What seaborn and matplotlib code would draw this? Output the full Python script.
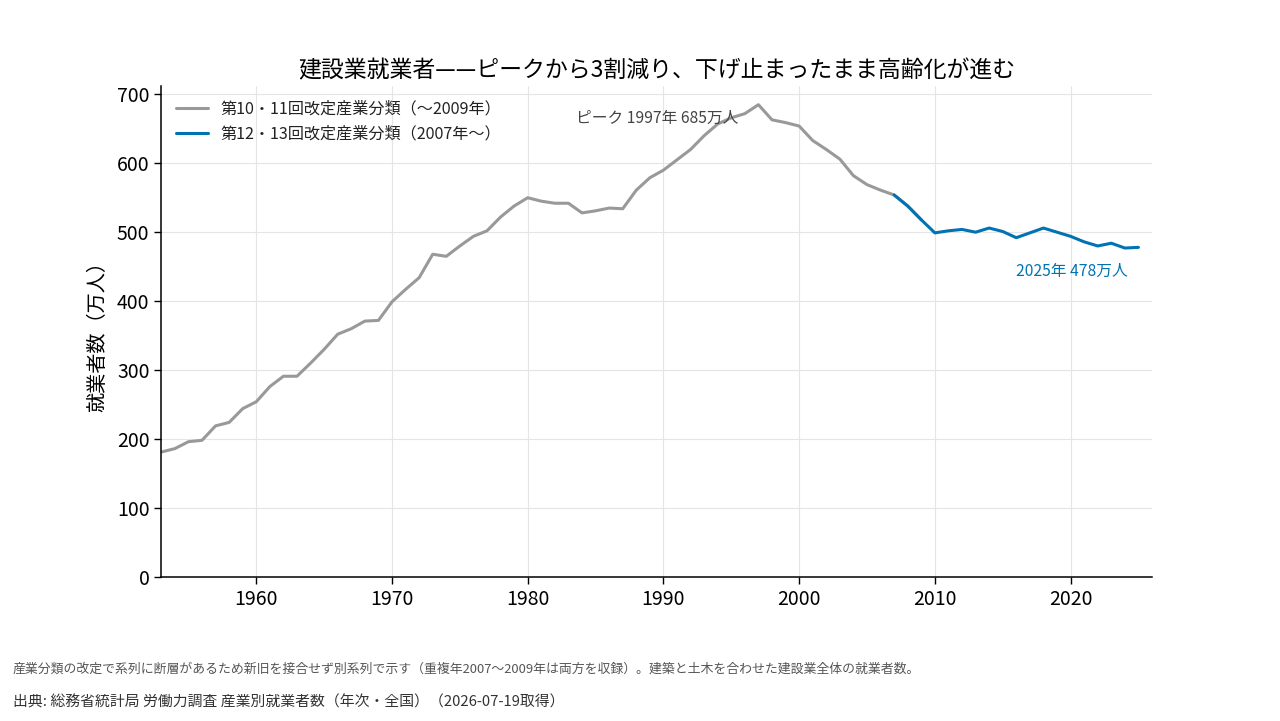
import numpy as np
import pandas as pd
import seaborn as sns
import matplotlib.pyplot as plt

# 旧分類（第10・11回改定）1953-2009
old_years = list(range(1953, 2010))
old_vals = [181, 186, 196, 198, 219, 224, 244, 254, 276, 291,
            291, 310, 330, 352, 360, 371, 372, 399, 417, 434,
            468, 465, 480, 494, 502, 522, 538, 550, 545, 542,
            542, 528, 531, 535, 534, 561, 579, 590, 605, 620,
            640, 657, 666, 672, 685, 663, 659, 654, 633, 620,
            606, 582, 569, 561, 554, 538, 518]

# 新分類（第12・13回改定）2007-2025
new_years = list(range(2007, 2026))
new_vals = [554, 538, 518, 499, 502, 504, 500, 506, 501, 492,
            499, 506, 500, 494, 486, 480, 484, 477, 478]

old_label = "第10・11回改定産業分類（～2009年）"
new_label = "第12・13回改定産業分類（2007年～）"

df = pd.concat([
    pd.DataFrame({"年": old_years, "就業者数": old_vals, "系列": old_label}),
    pd.DataFrame({"年": new_years, "就業者数": new_vals, "系列": new_label}),
])

sns.set_theme(style="whitegrid")
plt.rcParams['font.family'] = ['Noto Sans CJK JP', 'DejaVu Sans']
plt.rcParams['text.color'] = "black"

gray = "#999999"
blue = "#0173B2"

fig = plt.figure(figsize=(12.8, 7.21), dpi=100)
ax = fig.add_axes([0.126, 0.2, 0.774, 0.681])

sns.lineplot(data=df, x="年", y="就業者数", hue="系列", ax=ax,
             palette={old_label: gray, new_label: blue}, linewidth=2.2)

ax.set_xlim(1953, 2026)
ax.set_ylim(0, max(old_vals) * 1.04)
ax.set_xticks([1960, 1970, 1980, 1990, 2000, 2010, 2020])
ax.set_yticks(range(0, 701, 100))
ax.tick_params(labelsize=14, labelcolor="black", length=5, width=1,
               color="black", left=True, bottom=True)
ax.grid(color="#e5e5e5", linewidth=0.8)
ax.set_facecolor("white")
for s in ["left", "bottom"]:
    ax.spines[s].set_color("black")
    ax.spines[s].set_linewidth(1.1)
sns.despine(ax=ax)

ax.set_xlabel("")
ax.set_ylabel("就業者数（万人）", fontsize=14.5, color="black", labelpad=6)
ax.set_title("建設業就業者——ピークから3割減り、下げ止まったまま高齢化が進む",
             fontsize=16.5, pad=6, color="black")

leg = ax.legend(loc="upper left", frameon=False, fontsize=11.6,
                handlelength=2.0, bbox_to_anchor=(0.0, 1.0))
for line in leg.get_lines():
    line.set_linewidth(2.2)
for t in leg.get_texts():
    t.set_color("#222222")

peak_i = int(np.argmax(old_vals))
ax.annotate(f"ピーク {old_years[peak_i]}年 {old_vals[peak_i]}万人",
            xy=(old_years[peak_i], old_vals[peak_i]), xytext=(-73, -10),
            textcoords="offset points", ha="center", va="center",
            fontsize=11.3, color="#444444")
ax.annotate(f"{new_years[-1]}年 {new_vals[-1]}万人",
            xy=(new_years[-1], new_vals[-1]), xytext=(-48, -17),
            textcoords="offset points", ha="center", va="center",
            fontsize=11.3, color=blue)

fig.text(0.010, 0.072,
         "産業分類の改定で系列に断層があるため新旧を接合せず別系列で示す（重複年2007～2009年は両方を収録）。建築と土木を合わせた建設業全体の就業者数。",
         fontsize=9.3, color="#555555", va="center")
fig.text(0.010, 0.026,
         "出典: 総務省統計局 労働力調査 産業別就業者数（年次・全国）（2026-07-19取得）",
         fontsize=10.7, color="#333333", va="center")

fig.savefig("out.png", dpi=100)
